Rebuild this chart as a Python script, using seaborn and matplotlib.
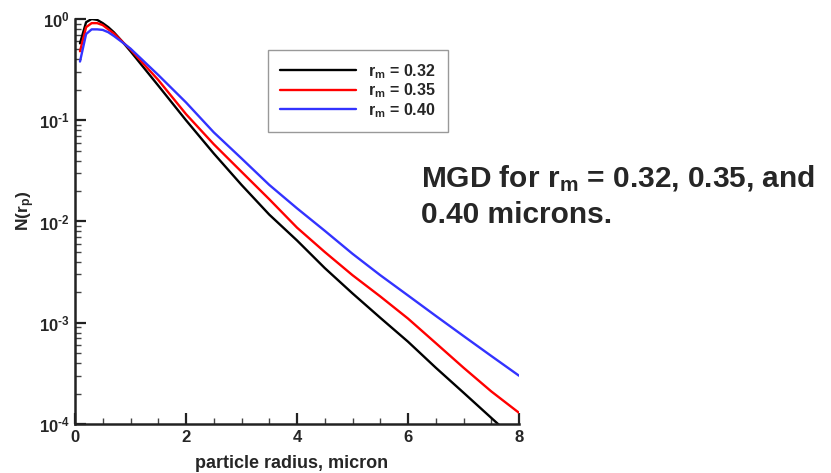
import numpy as np
import pandas as pd
import matplotlib
matplotlib.use("Agg")
import matplotlib.pyplot as plt
from matplotlib.ticker import FixedLocator, MultipleLocator, FuncFormatter, LogLocator, NullFormatter
import seaborn as sns

# ---- data ----
radius = [0.09, 0.2, 0.3, 0.4, 0.5, 0.6, 0.7, 0.85, 1.0, 1.5, 2.0, 2.5, 3.0,
          3.5, 4.0, 4.5, 5.0, 5.5, 6.0, 6.5, 7.0, 7.5, 8.0]
n_032 = [0.575, 0.93, 1.0, 0.98, 0.91, 0.83, 0.74, 0.60, 0.48, 0.22, 0.10, 0.047,
         0.023, 0.0117, 0.0065, 0.00347, 0.00195, 0.00112, 0.00065, 0.00036,
         0.000204, 0.000115, 0.000065]
n_035 = [0.48, 0.83, 0.91, 0.91, 0.87, 0.79, 0.72, 0.60, 0.50, 0.25, 0.115, 0.058,
         0.031, 0.0166, 0.0087, 0.0050, 0.00295, 0.00182, 0.0011, 0.00063,
         0.00036, 0.00021, 0.000129]
n_040 = [0.38, 0.71, 0.79, 0.79, 0.78, 0.74, 0.68, 0.59, 0.51, 0.28, 0.15, 0.076,
         0.042, 0.023, 0.0135, 0.0081, 0.0048, 0.00295, 0.00186, 0.00117,
         0.00074, 0.00047, 0.0003]
series_labels = [r"r$_\mathbf{m}$ = 0.32", r"r$_\mathbf{m}$ = 0.35", r"r$_\mathbf{m}$ = 0.40"]
colors = ["#000000", "#ff0000", "#3333ff"]
x_ticks = [0, 2, 4, 6, 8]
y_ticks = [1e-4, 1e-3, 1e-2, 1e-1, 1e0]
xlabel = "particle radius, micron"
ylabel = r"N(r$_\mathbf{p}$)"
note_line1 = r"MGD for r$_\mathbf{m}$ = 0.32, 0.35, and"
note_line2 = "0.40 microns."

df = pd.concat([
    pd.DataFrame({"r": radius, "N": vals, "series": lab})
    for vals, lab in zip([n_032, n_035, n_040], series_labels)
], ignore_index=True)

sns.set_theme(style="white")
plt.rcParams["font.family"] = ["Liberation Sans", "DejaVu Sans"]
plt.rcParams["font.weight"] = "bold"
plt.rcParams["mathtext.fontset"] = "custom"
plt.rcParams["mathtext.rm"] = "Liberation Sans:bold"
plt.rcParams["mathtext.bf"] = "Liberation Sans:bold"
plt.rcParams["mathtext.it"] = "Liberation Sans:bold"
plt.rcParams["axes.unicode_minus"] = False

fig = plt.figure(figsize=(8.31, 4.73), dpi=100)
ax = fig.add_axes([75/831, 1 - 424/473, (519-75)/831, (424-19)/473])

sns.lineplot(data=df, x="r", y="N", hue="series", palette=colors,
             hue_order=series_labels, ax=ax, linewidth=1.7, legend=True)

ax.set_yscale("log")
ax.set_xlim(0, 8)
ax.set_ylim(1e-4, 1)

for s in ["top", "right"]:
    ax.spines[s].set_visible(False)
for s in ["left", "bottom"]:
    ax.spines[s].set_linewidth(1.8)
    ax.spines[s].set_color("#222222")

HYPHEN = "\u2010"


def ylab(v, p):
    e = int(round(np.log10(v)))
    if e < 0:
        return "$\\mathbf{10^{" + HYPHEN + str(-e) + "}}$"
    return "$\\mathbf{10^{" + str(e) + "}}$"


ax.xaxis.set_major_locator(FixedLocator(x_ticks))
ax.xaxis.set_minor_locator(MultipleLocator(0.5))
ax.yaxis.set_major_locator(FixedLocator(y_ticks))
ax.yaxis.set_minor_locator(LogLocator(base=10, subs=np.arange(2, 10)))
ax.yaxis.set_minor_formatter(NullFormatter())
ax.yaxis.set_major_formatter(FuncFormatter(ylab))
ax.xaxis.set_major_formatter(FuncFormatter(lambda v, p: "%d" % v))

ax.tick_params(which="major", direction="in", length=8, width=1.6,
               color="#222222", labelsize=12, pad=4)
ax.tick_params(which="minor", direction="in", length=4, width=1.0,
               color="#444444")
ax.tick_params(axis="x", which="both", bottom=True, top=False)
ax.tick_params(axis="y", which="both", left=True, right=False)
for lab in ax.get_xticklabels():
    lab.set_fontweight("bold")

ax.set_xlabel(xlabel, fontsize=13, fontweight="bold")
ax.set_ylabel(ylabel, fontsize=12.5, fontweight="bold")
ax.xaxis.set_label_coords((291.5 - 75) / 444, (424 - 455) / 405)
ax.yaxis.set_label_coords((37 - 75) / 444, (424 - 211) / 405)

leg = ax.legend(loc="upper left", bbox_to_anchor=(268/831, 1 - 50/473),
                bbox_transform=fig.transFigure, borderaxespad=0,
                fontsize=11.5, handlelength=4.75, handletextpad=0.75,
                borderpad=0.75, labelspacing=0.05, fancybox=False,
                framealpha=1, edgecolor="#999999")
leg.get_frame().set_linewidth(1.0)
for t in leg.get_texts():
    t.set_fontweight("bold")
for h in leg.get_lines():
    h.set_linewidth(1.7)

fig.text(421/831, 1 - 187/473, note_line1, fontsize=21.5, fontweight="bold",
         ha="left", va="baseline")
fig.text(421/831, 1 - 223/473, note_line2, fontsize=21.5, fontweight="bold",
         ha="left", va="baseline")

fig.savefig("out.png", dpi=100)
